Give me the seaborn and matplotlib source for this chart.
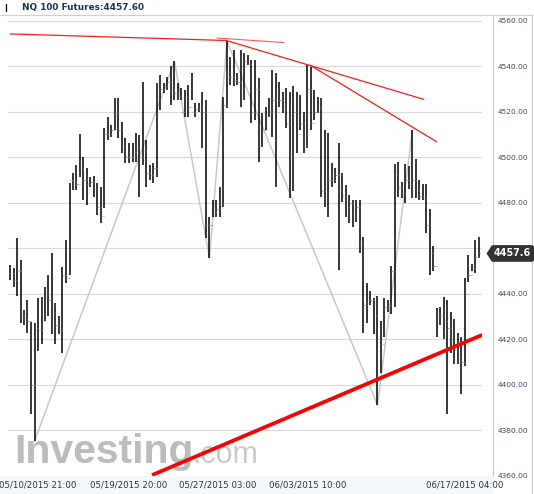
import matplotlib
matplotlib.use("Agg")
import matplotlib.pyplot as plt
import matplotlib.transforms as mtransforms
from matplotlib.patches import Polygon
from matplotlib.lines import Line2D
import seaborn as sns
import numpy as np
import pandas as pd

# ---------------- data ----------------
highs = [4452.5, 4451, 4464.4, 4454.7, 4432.7, 4437, 4427.5, 4427, 4438, 4438.5,
         4443, 4448, 4458, 4436, 4430, 4451.6, 4463.5, 4488.6, 4493, 4496.5,
         4510, 4500, 4495, 4491.3, 4491.6, 4488.4, 4487, 4512.6, 4517.7, 4514,
         4525.8, 4525.8, 4515.5, 4508.2, 4506, 4506.3, 4510.4, 4509.7, 4533, 4507.5,
         4496.5, 4497.2, 4532.4, 4536, 4532.4, 4535.3, 4540, 4542, 4532.4, 4530.2,
         4529.5, 4531.6, 4536.8, 4523.6, 4523.6, 4528.7, 4525, 4473.8, 4481, 4481,
         4487, 4526.5, 4551, 4544, 4547, 4536.8, 4547, 4545.6, 4544.8, 4542.6,
         4542.6, 4534.6, 4519.2, 4522, 4525.8, 4538.2, 4536.8, 4533, 4528.7, 4530.2,
         4528.7, 4531, 4528.7, 4527.3, 4519.9, 4540.3, 4539.7, 4529.5, 4526.5, 4525.8,
         4512, 4510.4, 4497.2, 4495, 4506, 4492.8, 4487.7, 4483.3, 4481, 4481,
         4481, 4465, 4444.5, 4441, 4438, 4439, 4428, 4438, 4437, 4452,
         4497, 4498, 4489, 4497, 4496, 4512, 4499, 4490, 4488, 4488,
         4477, 4461, 4433.5, 4434, 4438.6, 4437, 4432, 4429, 4422.5, 4421,
         4447, 4457, 4453, 4463.5, 4465]
lows = [4446, 4443, 4439, 4427, 4426, 4422.6, 4387, 4375, 4414.7, 4418,
        4428, 4430, 4422, 4418, 4422, 4413.8, 4444.6, 4448, 4485.5, 4485.5,
        4491, 4481, 4479, 4487, 4482.5, 4474.5, 4470.9, 4477.4, 4507.5, 4509,
        4511.9, 4508.2, 4501.6, 4497.2, 4497.2, 4497.9, 4497.9, 4482.5, 4496.5, 4487,
        4489.9, 4488.4, 4491.3, 4520.7, 4528, 4529.5, 4523, 4525, 4525, 4525,
        4517.7, 4517.7, 4525, 4517.7, 4519.9, 4503.8, 4464.3, 4455.5, 4473.8, 4473.8,
        4473.8, 4478.2, 4521.4, 4531.6, 4531, 4531.6, 4522, 4525, 4540.4, 4514.8,
        4516.3, 4498, 4504.5, 4511.9, 4517.7, 4509, 4487, 4522, 4519.2, 4512.6,
        4481.8, 4485, 4501.6, 4511.9, 4501.6, 4503.8, 4511.9, 4516.3, 4519.2, 4482.5,
        4478, 4473.8, 4487, 4488.4, 4450.3, 4480.4, 4473.8, 4470.9, 4469.4, 4471.6,
        4458, 4422.5, 4427, 4435, 4422, 4391, 4405, 4421, 4432, 4431,
        4434, 4482.5, 4482, 4480, 4486, 4482, 4482, 4481, 4481, 4466.5,
        4448, 4450, 4421, 4426, 4420, 4387, 4414, 4409, 4409, 4396,
        4408, 4445, 4450, 4449, 4455.5]
closes = [4449, 4446, 4450, 4430, 4429, 4428, 4400, 4425, 4424, 4428,
          4440, 4437, 4435, 4426, 4424, 4448, 4447, 4490, 4489, 4488,
          4495, 4490, 4488, 4489, 4486, 4478, 4474, 4510, 4510, 4512,
          4520, 4512, 4505, 4500, 4500, 4502, 4505, 4500, 4503, 4493,
          4492, 4495, 4525, 4530, 4531, 4533, 4530, 4528, 4527, 4520,
          4525, 4522, 4520, 4521, 4522, 4520, 4470, 4470, 4476, 4477,
          4480, 4523, 4535, 4535, 4534, 4533, 4530, 4542, 4541, 4520,
          4530, 4505, 4512, 4518, 4520, 4525, 4520, 4525, 4521, 4515,
          4500, 4520, 4510, 4515, 4505, 4530, 4515, 4520, 4522, 4485,
          4490, 4490, 4490, 4492, 4485, 4483, 4478, 4480, 4475, 4478,
          4462, 4435, 4436, 4437, 4430, 4402, 4418, 4434, 4435, 4450,
          4492, 4487, 4484, 4490, 4488, 4490, 4485, 4483, 4482, 4470,
          4458, 4452, 4430, 4430, 4428, 4425, 4420, 4415, 4412, 4410,
          4440, 4448, 4451, 4456, 4457.6]
last_price = 4457.6

# zigzag pivots: bar index and whether it is a high ("H") or low ("L")
pivot_idx = [7, 47, 57, 62, 105, 115]
pivot_kind = ["L", "H", "L", "H", "L", "H"]

# hand-drawn trend lines: (bar index, price) endpoints
trend_thin = [((0, 4554.1), (62, 4551.2)),
              ((62, 4551.1), (118.3, 4525.3)),
              ((85.7, 4540.4), (122, 4506.6))]
trend_faint = [((59.1, 4552.3), (78.3, 4550.3))]
trend_thick = [((40.6, 4360.2), (134.9, 4421.8))]

tick_pos = [8, 34, 59.4, 85, 130]
tick_labels = ["05/10/2015 21:00", "05/19/2015 20:00", "05/27/2015 03:00",
               "06/03/2015 10:00", "06/17/2015 04:00"]
y_ticks = [4360, 4380, 4400, 4420, 4440, 4460, 4480, 4500, 4520, 4540, 4560]
title = "NQ 100 Futures:4457.60"

# ---------------- figure ----------------
sns.set_theme(style="white")
plt.rcParams['font.family'] = ['DejaVu Sans']

W, H = 534, 494
fig = plt.figure(figsize=(W / 100, H / 100), dpi=100)
fig.patch.set_facecolor("white")


def fx(px):
    return px / W


def fy(py):
    return 1 - py / H


# background decorations (behind the axes)
fig.patches.append(plt.Rectangle((0, fy(494)), fx(493), fy(475.5) - fy(494),
                                 transform=fig.transFigure, fc="#f5f8fb", ec="none", zorder=-5))
fig.lines.append(Line2D([0, fx(532)], [fy(15), fy(15)], transform=fig.transFigure,
                        color="#cfcfcf", lw=0.8, zorder=-4))
fig.lines.append(Line2D([fx(493), fx(493)], [fy(15), fy(475.5)], transform=fig.transFigure,
                        color="#c8c8c8", lw=0.8, zorder=-4))
fig.lines.append(Line2D([fx(531.5), fx(531.5)], [fy(15), fy(494)], transform=fig.transFigure,
                        color="#c8c8c8", lw=0.8, zorder=-4))

ax = fig.add_axes([fx(8), fy(475.5), fx(482) - fx(8), fy(20.5) - fy(475.5)])
ax.set_facecolor("white")

n = len(highs)
idx = np.arange(n)
opens = [closes[0]] + closes[:-1]

# watermark (behind everything)
ax.text(fx(14), fy(463), "Investing", transform=fig.transFigure, fontsize=29.5,
        fontweight="bold", family="Liberation Sans", color="#bcbcbc",
        va="baseline", ha="left", zorder=0.5)
ax.text(fx(192), fy(463), ".com", transform=fig.transFigure, fontsize=22,
        family="Liberation Sans", color="#cacaca", va="baseline", ha="left", zorder=0.5)

# zigzag
zz = pd.DataFrame({
    "i": pivot_idx,
    "price": [lows[i] if k == "L" else highs[i] for i, k in zip(pivot_idx, pivot_kind)],
})
sns.lineplot(data=zz, x="i", y="price", ax=ax, color="#c9c9c9", linewidth=1.1,
             sort=False, estimator=None, zorder=2)

# OHLC bars
ax.vlines(idx, lows, highs, color="black", linewidth=1.1, zorder=3)
ax.hlines(opens, idx - 0.4, idx, color="#8a8a8a", linewidth=0.6, zorder=3)
ax.hlines(closes, idx, idx + 0.4, color="#8a8a8a", linewidth=0.6, zorder=3)

# trend lines
for (a, b) in trend_thin:
    ax.plot([a[0], b[0]], [a[1], b[1]], color="#ff1a1a", lw=0.9, zorder=4,
            solid_capstyle="butt")
for (a, b) in trend_faint:
    ax.plot([a[0], b[0]], [a[1], b[1]], color="#ff5a5a", lw=0.8, zorder=4)
for (a, b) in trend_thick:
    ax.plot([a[0], b[0]], [a[1], b[1]], color="#ff0000", lw=2.7, zorder=4,
            solid_capstyle="butt")

ax.set_xlim((8 - 10) / 3.5, (482 - 10) / 3.5)
ax.set_ylim(4360, 4560)
ax.set_xlabel("")
ax.set_ylabel("")

ax.grid(axis="y", color="#dadada", linewidth=0.8)
ax.grid(axis="x", visible=False)
ax.set_axisbelow(True)
for s in ax.spines.values():
    s.set_visible(False)

ax.yaxis.tick_right()
ax.set_yticks(y_ticks)
# the 4460 label sits under the last-price box in the reference
ax.set_yticklabels(["" if v == 4460 else f"{v}.00" for v in y_ticks])
ax.tick_params(axis="y", length=0, pad=11, labelsize=5.4, labelcolor="#3d4b5a")
ax.set_xticks(tick_pos)
ax.set_xticklabels(tick_labels)
ax.tick_params(axis="x", length=0, pad=3.8, labelsize=6.2, labelcolor="#333333")

# last price marker
tr = mtransforms.blended_transform_factory(fig.transFigure, ax.transData)
ax.text(fx(512.5), last_price, f"{last_price:.1f}", transform=tr, ha="center", va="center",
        color="white", fontsize=6.9, fontweight="bold", zorder=6, clip_on=False,
        bbox=dict(boxstyle="round,pad=0.35,rounding_size=0.35", fc="#333333", ec="none"))
off = 3.6  # half-height of the pointer, in price units
tri = Polygon([[fx(486.5), last_price], [fx(492), last_price + off], [fx(492), last_price - off]],
              closed=True, transform=tr, fc="#333333", ec="none", zorder=6, clip_on=False)
ax.add_patch(tri)

# title
fig.text(fx(22), fy(7.5), title, ha="left", va="center", fontsize=6.4,
         fontweight="bold", color="#1f3553")
fig.lines.append(Line2D([fx(6), fx(6)], [fy(4), fy(11)], transform=fig.transFigure,
                        color="black", lw=0.9))

fig.savefig("out.png", dpi=100, facecolor="white")
